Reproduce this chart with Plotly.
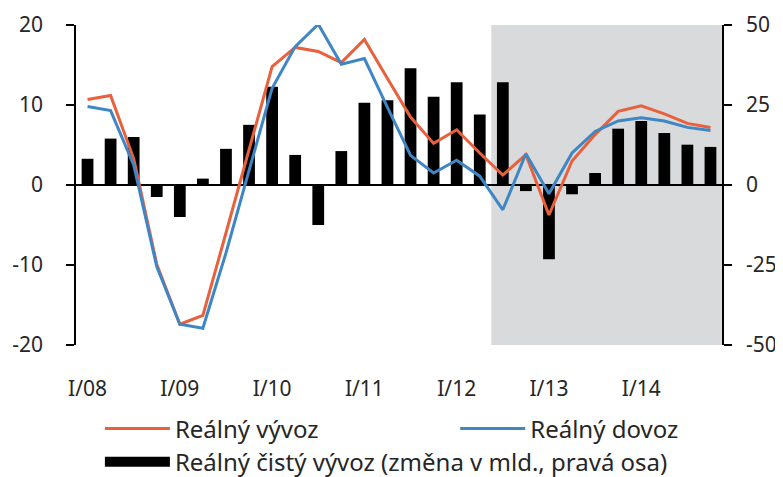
import plotly.graph_objects as go

# Quarters I/08 .. IV/14
years = ["08", "09", "10", "11", "12", "13", "14"]
quarters = ["I", "II", "III", "IV"]
categories = [f"{q}/{y}" for y in years for q in quarters]

# Real exports (y/y %, left axis)
export_real = [10.7, 11.2, 3.3, -9.9, -17.4, -16.3, -6.0, 4.4, 14.8, 17.2, 16.7, 15.3,
               18.2, 13.3, 8.5, 5.2, 6.9, 4.0, 1.25, 3.8, -3.75, 3.0, 6.3, 9.2,
               9.9, 8.9, 7.7, 7.2]
# Real imports (y/y %, left axis)
import_real = [9.8, 9.3, 2.5, -10.2, -17.4, -17.9, -8.5, 1.8, 12.1, 17.3, 20.1, 15.1,
               15.8, 9.7, 3.7, 1.5, 3.1, 1.1, -3.1, 3.9, -1.1, 4.0, 6.7, 8.0,
               8.4, 8.0, 7.2, 6.8]
# Real net exports (change in bn, right axis)
net_export = [8.2, 14.5, 15.0, -3.75, -10.0, 2.0, 11.3, 18.8, 30.7, 9.4, -12.5, 10.6,
              25.7, 26.5, 36.5, 27.6, 32.1, 22.0, 32.1, -1.9, -23.2, -2.9, 3.75, 17.6,
              20.0, 16.25, 12.6, 11.9]

tick_vals = [f"I/{y}" for y in years]
tick_text = [f"I/{y}" for y in years]
left_ticks = [-20, -10, 0, 10, 20]
left_tick_text = ["-20", "-10", "0", "10", "20"]
right_ticks = [-50, -25, 0, 25, 50]
right_tick_text = ["-50", "-25", "0", "25", "50"]
forecast_start = 17.5  # shaded forecast period (between II/12 and III/12)

FONT = "Noto Sans"
TXT = "#262626"
ORANGE = "#e9603d"
BLUE = "#3f86c5"
NET_NAME = "Reálný čistý vývoz (změna v mld., pravá osa)"

fig = go.Figure()

fig.add_trace(go.Bar(
    x=categories, y=net_export, name=NET_NAME,
    marker=dict(color="black", line=dict(width=0)), yaxis="y", showlegend=False,
))
# legend key for the bars (wide black block as in the original)
fig.add_trace(go.Scatter(
    x=[None], y=[None], name=NET_NAME, mode="lines",
    line=dict(color="black", width=14), yaxis="y", legend="legend3", hoverinfo="skip",
))
fig.add_trace(go.Scatter(
    x=categories, y=export_real, name="Reálný vývoz", mode="lines",
    line=dict(color=ORANGE, width=3), yaxis="y2", legend="legend",
))
fig.add_trace(go.Scatter(
    x=categories, y=import_real, name="Reálný dovoz", mode="lines",
    line=dict(color=BLUE, width=3), yaxis="y2", legend="legend2",
))

fig.add_shape(type="rect", xref="x", yref="paper", x0=forecast_start, x1=len(categories) - 0.5,
              y0=0, y1=1, fillcolor="#d9dadb", line=dict(width=0), layer="below")

axis_common = dict(
    showline=True, linecolor="black", linewidth=1.5, ticks="outside", ticklen=8,
    tickwidth=1.5, tickcolor="black", showgrid=False, tickfont=dict(family=FONT, size=21, color=TXT),
    tickmode="array",
)

legend_common = dict(orientation="h", xanchor="left", yanchor="middle",
                     font=dict(family=FONT, size=24, color=TXT), bgcolor="rgba(0,0,0,0)",
                     itemwidth=65)

# The page body has an 8px margin, so the figure is sized 8px smaller
fig.update_layout(
    width=775, height=469,
    margin=dict(l=68, r=61, t=17, b=132, autoexpand=False),
    paper_bgcolor="white", plot_bgcolor="rgba(0,0,0,0)",
    bargap=0.49,
    showlegend=True,
    xaxis=dict(type="category", range=[-0.5, len(categories) - 0.5], showline=False, ticks="",
               tickmode="array", tickvals=tick_vals, ticktext=tick_text, showgrid=False,
               tickfont=dict(family=FONT, size=21, color=TXT), ticklabelstandoff=29),
    yaxis=dict(side="right", range=[-50, 50], tickvals=right_ticks, ticktext=right_tick_text,
               zeroline=True, zerolinecolor="black", zerolinewidth=1.5,
               ticklabelstandoff=10, **axis_common),
    yaxis2=dict(side="left", overlaying="y", range=[-20, 20], tickvals=left_ticks,
                ticktext=left_tick_text, zeroline=False, ticklabelstandoff=19, **axis_common),
    legend=dict(x=0.037, y=-0.262, **legend_common),
    legend2=dict(x=0.587, y=-0.262, **legend_common),
    legend3=dict(x=0.037, y=-0.366, **legend_common),
)

fig.write_html("out.html")
